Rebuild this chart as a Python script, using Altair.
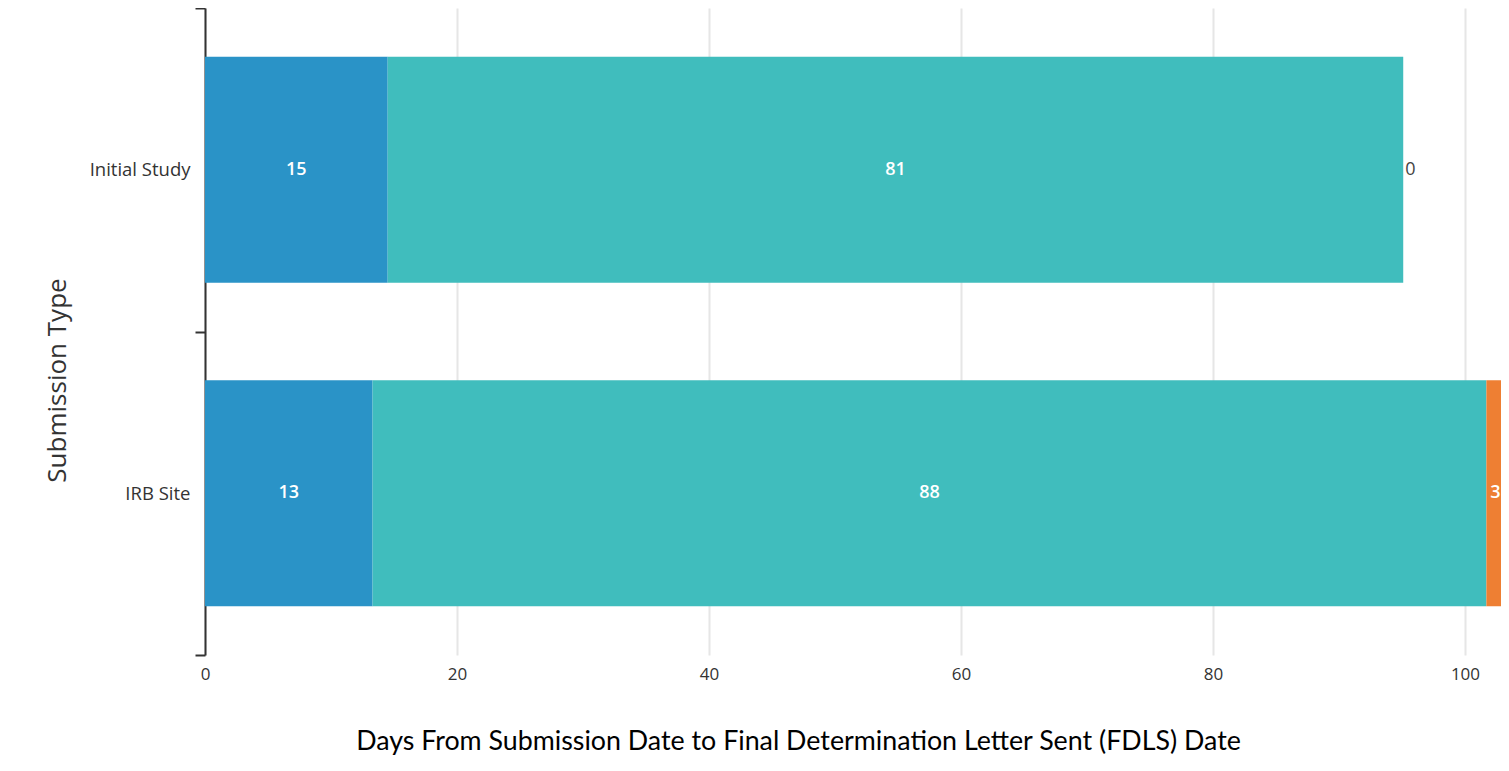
import altair as alt
import pandas as pd

# ---- data ----
types = ["Initial Study", "IRB Site"]
stages = ["Stage 1", "Stage 2", "Stage 3"]
initial_study_days = [14.5, 80.6, 0.0]
irb_site_days = [13.3, 88.4, 3.0]
stage_colors = ["#2A93C7", "#40BDBD", "#EE7F33"]
x_ticks = [0, 20, 40, 60, 80, 100]
x_max = 102.86
x_title = "Days From Submission Date to Final Determination Letter Sent (FDLS) Date"
y_title = "Submission Type"

rows = []
for t, vals in zip(types, [initial_study_days, irb_site_days]):
    for i, (s, v) in enumerate(zip(stages, vals)):
        rows.append({"type": t, "stage": s, "order": i, "days": v})
df = pd.DataFrame(rows)

base = alt.Chart(df).transform_stack(
    stack="days", groupby=["type"], as_=["x0", "x1"], sort=[alt.SortField("order")]
).transform_calculate(
    mid=f"min((datum.x0 + datum.x1) / 2, {x_max - 0.45})"
)

x_scale = alt.Scale(domain=[0, x_max], nice=False, zero=True)
y_scale = alt.Scale(domain=types, paddingInner=0, paddingOuter=0)

x_axis = alt.Axis(
    values=x_ticks, title=x_title, domain=False, ticks=False, grid=True,
    gridColor="#e6e6e6", gridWidth=2, labelFontSize=17, labelColor="#333333",
    labelFont="Open Sans", labelPadding=11, labelFlush=False,
    titleFont="Lato", titleFontSize=26.8,
    titleFontWeight="normal", titleColor="#000000", titleX=593, titleY=94,
    titleAlign="center", titleBaseline="alphabetic",
)
y_axis = alt.Axis(
    title=y_title, domainColor="#333333", domainWidth=2, tickColor="#333333",
    tickWidth=2, tickSize=10, tickBand="extent", grid=False, labelFontSize=18.5,
    labelFontWeight=500, labelColor="#333333", labelPadding=5, labelFont="Open Sans",
    titleFont="Open Sans", titleFontSize=26, titleFontWeight="normal",
    titleColor="#333333", titleX=-148, titleY=372, titleAngle=270,
    titleAlign="center", titleBaseline="middle",
)

bars = base.mark_bar(size=226, clip=True).encode(
    x=alt.X("x0:Q", scale=x_scale, axis=x_axis),
    x2="x1:Q",
    y=alt.Y("type:N", scale=y_scale, sort=types, axis=y_axis),
    color=alt.Color("stage:N", scale=alt.Scale(domain=stages, range=stage_colors), legend=None),
)

inside = base.transform_filter("datum.days >= 1").mark_text(
    color="white", fontSize=18, fontWeight=600, font="Open Sans"
).encode(
    x=alt.X("mid:Q", scale=x_scale),
    y=alt.Y("type:N", scale=y_scale, sort=types),
    text=alt.Text("days:Q", format=".0f"),
)

outside = base.transform_filter("datum.days < 1").mark_text(
    color="#444444", fontSize=18, fontWeight=500, font="Open Sans", align="left", dx=2
).encode(
    x=alt.X("x0:Q", scale=x_scale),
    y=alt.Y("type:N", scale=y_scale, sort=types),
    text=alt.Text("days:Q", format=".0f"),
)

chart = alt.layer(bars, inside, outside).properties(
    width=1296,
    height=647,
    autosize=alt.AutoSizeParams(type="none"),
    padding={"left": 197, "top": 0, "right": 0, "bottom": 100},
).configure_view(stroke=None)

chart.save("out.html", embed_options={"renderer": "svg", "actions": False})
